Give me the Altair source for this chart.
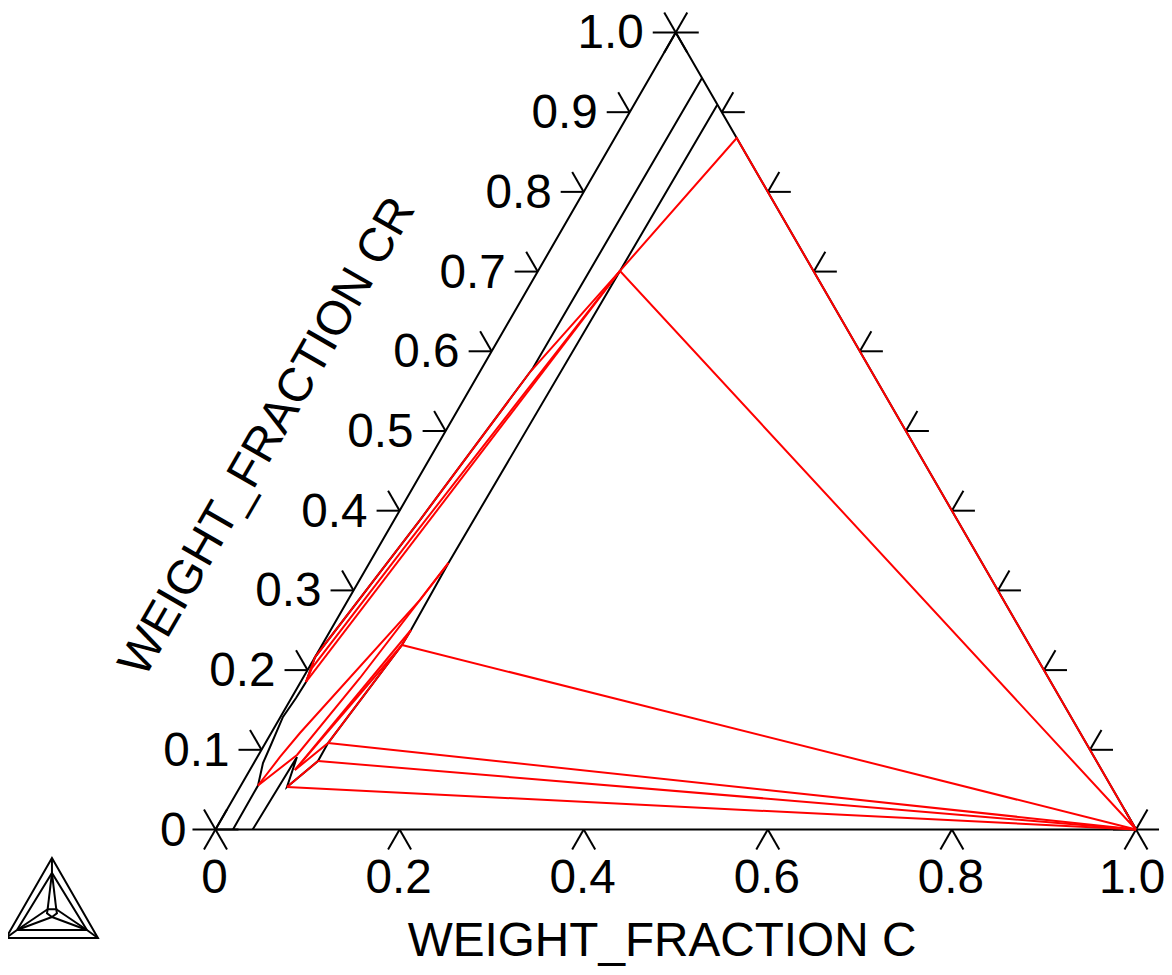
import altair as alt
import pandas as pd

# Weight fractions (C, CR)
EDGE = [(0, 0), (1, 0), (0, 1), (0, 0)]
BOUNDARY_A = [(0.019, 0), (0.0186, 0.0552), (0.0099, 0.0834), (0.0075, 0.1035), (0.0027, 0.1412),
              (0.005, 0.165), (0.0058, 0.1851), (0, 0.2164), (0.028, 0.3883), (0.0547, 0.574),
              (0.0554, 0.579), (0.0571, 0.9429)]
BOUNDARY_B = [(0.0404, 0), (0.043, 0.091), (0.051, 0.0533), (0.0684, 0.0859), (0.068, 0.1085),
              (0.0868, 0.2315), (0.0872, 0.2503), (0.0859, 0.3344), (0.089, 0.7008), (0.0905, 0.909)]

CORNER = (1, 0)
NODE_TOP = (0.1325, 0.8675)
NODE_MID = (0.089, 0.7008)
RED_LINES = [
    [CORNER, NODE_TOP, NODE_MID, CORNER],
    [NODE_MID, (0.0547, 0.574), (0.028, 0.3883), (0, 0.2164), (0.0058, 0.1851)],
    [NODE_MID, (0.0297, 0.3632), (0.0035, 0.2026), (0.0058, 0.1851)],
    [NODE_MID, (0.0058, 0.1851)],
    [(0.0859, 0.3344), (0.0782, 0.288), (0.0312, 0.1211), (0.0246, 0.091), (0.0186, 0.0552)],
    [(0.0859, 0.3344), (0.0619, 0.1901), (0.0418, 0.0935), (0.0186, 0.0552)],
    [(0.0872, 0.2503), (0.049, 0.0747)],
    [(0.0868, 0.2315), (0.049, 0.0747)],
    [(0.0872, 0.2503), (0.0868, 0.2315), (0.068, 0.1085), (0.049, 0.0747)],
    [(0.051, 0.0533), (0.0684, 0.0859)],
    [(0.0868, 0.2315), CORNER],
    [(0.068, 0.1085), CORNER],
    [(0.0684, 0.0859), CORNER],
    [(0.051, 0.0533), CORNER],
]

EDGE_TICKS = [0.1, 0.2, 0.3, 0.4, 0.5, 0.6, 0.7, 0.8, 0.9]
BOTTOM_TICKS = [0.2, 0.4, 0.6, 0.8]
BOTTOM_LABELS = [(0, "0"), (0.2, "0.2"), (0.4, "0.4"), (0.6, "0.6"), (0.8, "0.8")]
BOTTOM_LAST = [(1.0, "1.0")]
LEFT_LABELS = [(0.1, "0.1"), (0.2, "0.2"), (0.3, "0.3"), (0.4, "0.4"), (0.5, "0.5"),
               (0.6, "0.6"), (0.7, "0.7"), (0.8, "0.8"), (0.9, "0.9")]
LEFT_ZERO = [(0, "0")]
LEFT_ONE = [(1.0, "1.0")]
TICK = 0.025

# Program logo, in its own unit triangle
LOGO = [
    [(0, 0), (1, 0), (0.5, 1), (0, 0)],
    [(0.12, 0.1), (0.88, 0.1), (0.5, 0.8125), (0.12, 0.1)],
    [(0, 0), (0.12, 0.1)], [(1, 0), (0.88, 0.1)], [(0.5, 1), (0.5, 0.8125)],
    [(0.5, 0.8125), (0.453, 0.359)], [(0.5, 0.8125), (0.547, 0.359)],
    [(0.453, 0.359), (0.547, 0.359), (0.554, 0.309), (0.5, 0.2625), (0.446, 0.309), (0.453, 0.359)],
    [(0.12, 0.1), (0.453, 0.359)], [(0.12, 0.1), (0.5, 0.2625)],
    [(0.88, 0.1), (0.547, 0.359)], [(0.88, 0.1), (0.5, 0.2625)],
]


def tri(c, cr):
    return c + cr / 2, cr


rows = []
gid = 0


def add(points, color, ternary=True):
    global gid
    gid += 1
    for i, (a, b) in enumerate(points):
        x, y = tri(a, b) if ternary else (a, b)
        rows.append({"x": x, "y": y, "g": gid, "o": i, "color": color})


add(EDGE, "black")
add(BOUNDARY_A, "black")
add(BOUNDARY_B, "black")

for t in EDGE_TICKS:
    add([(0, t), (-TICK, t)], "black")
    add([(0, t), (-TICK, t + TICK)], "black")
    add([(1 - t, t), (1 - t + TICK, t)], "black")
    add([(1 - t, t), (1 - t, t + TICK)], "black")
for t in BOTTOM_TICKS:
    add([(t, 0), (t, -TICK)], "black")
    add([(t, 0), (t + TICK, -TICK)], "black")
for c, r in [(0, 0), (1, 0), (0, 1)]:
    add([(c - TICK, r), (c + TICK, r)], "black")
    add([(c, r - TICK), (c, r + TICK)], "black")
    add([(c - TICK, r + TICK), (c + TICK, r - TICK)], "black")

for pts in RED_LINES:
    add(pts, "#ff0000")

LOGO_X0, LOGO_W = -0.2276, 0.0999
LOGO_Y0, LOGO_H = -0.1361, 0.1004
for pts in LOGO:
    add([(LOGO_X0 + u * LOGO_W, LOGO_Y0 + v * LOGO_H) for u, v in pts], "black", ternary=False)

df = pd.DataFrame(rows)

xs = alt.Scale(domain=[-0.2254, 1.0304], nice=False, zero=False)
ys = alt.Scale(domain=[-0.1725, 1.0307], nice=False, zero=False)
FONT = "Liberation Sans"
SIZE = 47.7
X = alt.X("x:Q", scale=xs, axis=None)
Y = alt.Y("y:Q", scale=ys, axis=None)

lines = alt.Chart(df).mark_line(strokeWidth=2, interpolate="linear").encode(
    x=X, y=Y, detail="g:N", order="o:Q", color=alt.Color("color:N", scale=None),
)


def left_labels(items, dx):
    d = pd.DataFrame({"x": [v / 2 for v, _ in items], "y": [v for v, _ in items],
                      "t": [s for _, s in items]})
    return alt.Chart(d).mark_text(font=FONT, fontSize=SIZE, align="right", baseline="middle",
                                  dx=dx, dy=2, color="black").encode(x=X, y=Y, text="t:N")


def bottom_labels(items, dx):
    d = pd.DataFrame({"x": [v for v, _ in items], "y": [0.0] * len(items),
                      "t": [s for _, s in items]})
    return alt.Chart(d).mark_text(font=FONT, fontSize=SIZE, align="center", baseline="middle",
                                  dx=dx, dy=49, color="black").encode(x=X, y=Y, text="t:N")


title_c = alt.Chart(pd.DataFrame({"t": ["WEIGHT_FRACTION C"]})).mark_text(
    font=FONT, fontSize=SIZE, align="center", baseline="middle", color="black").encode(
    x=alt.value(654), y=alt.value(934), text="t:N")
title_cr = alt.Chart(pd.DataFrame({"t": ["WEIGHT_FRACTION CR"]})).mark_text(
    font=FONT, fontSize=SIZE, align="center", baseline="middle", angle=300, color="black").encode(
    x=alt.value(260), y=alt.value(429), text="t:N")

chart = alt.layer(
    lines, bottom_labels(BOTTOM_LABELS, -1), bottom_labels(BOTTOM_LAST, -4),
    left_labels(LEFT_LABELS, -32), left_labels(LEFT_ZERO, -29),
    left_labels(LEFT_ONE, -32), title_c, title_cr
).properties(width=1156, height=959, padding=0, autosize=alt.AutoSizeParams(type="none"),
             background="white").configure_view(stroke=None)

chart.save("out.html", embed_options={"renderer": "svg", "actions": False})
